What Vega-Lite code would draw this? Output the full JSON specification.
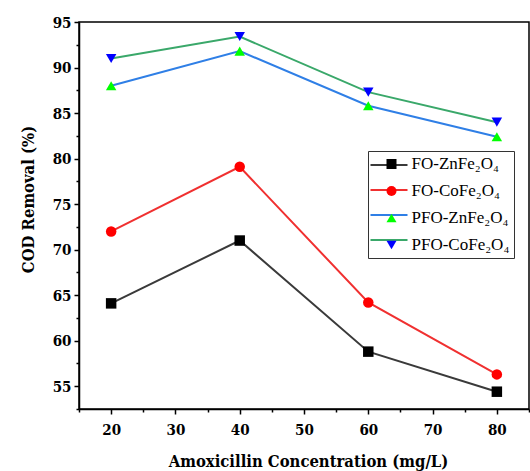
{
  "$schema": "https://vega.github.io/schema/vega-lite/v6.json",
  "autosize": {"type": "none"},
  "padding": {"left": 79, "top": 22, "right": 1, "bottom": 62},
  "width": 450,
  "height": 387,
  "background": "white",
  "config": {
    "view": {"stroke": "black", "strokeWidth": 1.5},
    "axis": {
      "domainColor": "black", "domainWidth": 1.5, "tickColor": "black", "tickWidth": 1.5,
      "labelFont": "DejaVu Serif Condensed", "labelFontWeight": "bold", "labelFontSize": 15, "labelColor": "black",
      "titleFont": "DejaVu Serif Condensed", "titleFontWeight": "bold", "titleFontSize": 16.5, "titleColor": "black",
      "grid": false
    }
  },
  "data": {"values": [
    {"x": 20, "y": 64.1, "series": "FO-ZnFe₂O₄"},
    {"x": 40, "y": 71.0, "series": "FO-ZnFe₂O₄"},
    {"x": 60, "y": 58.8, "series": "FO-ZnFe₂O₄"},
    {"x": 80, "y": 54.4, "series": "FO-ZnFe₂O₄"},
    {"x": 20, "y": 72.0, "series": "FO-CoFe₂O₄"},
    {"x": 40, "y": 79.1, "series": "FO-CoFe₂O₄"},
    {"x": 60, "y": 64.2, "series": "FO-CoFe₂O₄"},
    {"x": 80, "y": 56.3, "series": "FO-CoFe₂O₄"},
    {"x": 20, "y": 88.0, "series": "PFO-ZnFe₂O₄"},
    {"x": 40, "y": 91.8, "series": "PFO-ZnFe₂O₄"},
    {"x": 60, "y": 85.8, "series": "PFO-ZnFe₂O₄"},
    {"x": 80, "y": 82.4, "series": "PFO-ZnFe₂O₄"},
    {"x": 20, "y": 91.0, "series": "PFO-CoFe₂O₄"},
    {"x": 40, "y": 93.4, "series": "PFO-CoFe₂O₄"},
    {"x": 60, "y": 87.3, "series": "PFO-CoFe₂O₄"},
    {"x": 80, "y": 84.0, "series": "PFO-CoFe₂O₄"}
  ]},
  "encoding": {
    "x": {"field": "x", "type": "quantitative",
      "scale": {"domain": [15, 85], "nice": false, "zero": false},
      "axis": {"title": "Amoxicillin Concentration (mg/L)",
        "values": [15, 20, 25, 30, 35, 40, 45, 50, 55, 60, 65, 70, 75, 80, 85],
        "labelExpr": "datum.value % 10 === 0 && datum.value > 15 && datum.value < 85 ? datum.label : ''",
        "tickSize": {"condition": {"test": "datum.value % 10 === 0", "value": 5}, "value": 3},
        "labelPadding": 8, "labelOverlap": false,
        "titleX": 229, "titleY": 57, "titleBaseline": "alphabetic"}},
    "y": {"field": "y", "type": "quantitative",
      "scale": {"domain": [52.5, 95], "nice": false, "zero": false},
      "axis": {"title": "COD Removal (%)",
        "values": [52.5, 55, 57.5, 60, 62.5, 65, 67.5, 70, 72.5, 75, 77.5, 80, 82.5, 85, 87.5, 90, 92.5, 95],
        "labelExpr": "datum.value % 5 === 0 ? datum.label : ''",
        "tickSize": {"condition": {"test": "datum.value % 5 === 0", "value": 5}, "value": 3},
        "labelPadding": 3, "labelOverlap": false,
        "titleX": -46, "titleY": 177, "titleBaseline": "alphabetic"}}
  },
  "layer": [
    {
      "mark": {"type": "line", "strokeWidth": 2},
      "encoding": {
        "stroke": {"field": "series", "type": "nominal",
          "scale": {"domain": ["FO-ZnFe₂O₄", "FO-CoFe₂O₄", "PFO-ZnFe₂O₄", "PFO-CoFe₂O₄"],
                    "range": ["#3a3a3a", "#f03030", "#2f7fe6", "#3aa86a"]},
          "legend": {"orient": "none", "legendX": 290.5, "legendY": 123.5, "symbolType": "M-1,0L1,0",
            "symbolSize": 1369, "symbolStrokeWidth": 2, "padding": 0, "rowPadding": -10,
            "title": null, "labelExpr": "''", "labelOffset": 0}}
      }
    },
    {
      "mark": {"type": "point", "filled": true, "opacity": 1, "strokeWidth": 0, "size": 110},
      "encoding": {
        "fill": {"field": "series", "type": "nominal", "sort": null,
          "scale": {"range": ["#000000", "#ff0000", "#00ff00", "#0000ff"]},
          "legend": {"orient": "none", "legendX": 289, "legendY": 129, "padding": 4.5,
            "symbolOffset": 10.5, "symbolSize": 100, "labelOffset": 11.5, "rowPadding": 9,
            "strokeColor": "#333333", "title": null, "labelFont": "Liberation Serif",
            "labelFontSize": 17, "labelColor": "black", "symbolStrokeWidth": 0, "symbolOpacity": 1}},
        "shape": {"field": "series", "type": "nominal", "sort": null,
          "scale": {"range": ["square", "circle", "triangle-up", "triangle-down"]},
          "legend": {"orient": "none", "legendX": 289, "legendY": 129, "padding": 4.5,
            "symbolOffset": 10.5, "symbolSize": 100, "labelOffset": 11.5, "rowPadding": 9,
            "strokeColor": "#333333", "title": null, "labelFont": "Liberation Serif",
            "labelFontSize": 17, "labelColor": "black", "symbolStrokeWidth": 0, "symbolOpacity": 1}}
      }
    }
  ]
}
